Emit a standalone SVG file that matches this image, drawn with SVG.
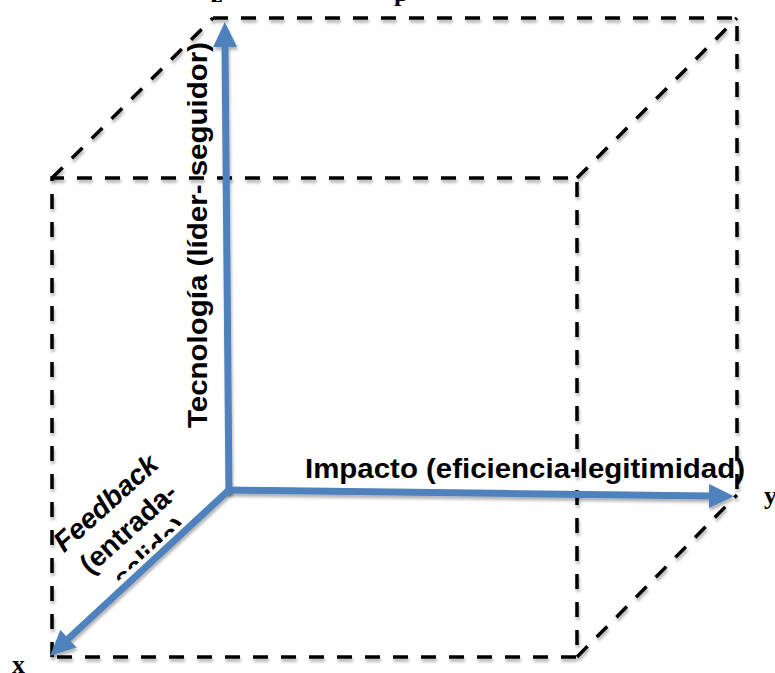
<svg xmlns="http://www.w3.org/2000/svg" width="775" height="673" viewBox="0 0 775 673">
<style>
.dash{fill:none;stroke:#000;stroke-width:3.5;stroke-dasharray:15 13;filter:url(#sh)}
.ax{fill:none;stroke:#4F81BD;stroke-width:7;filter:url(#sh)}
.lbl{font-family:"Liberation Sans",Arial,sans-serif;font-weight:bold;font-size:28px;fill:#000}
.var{font-family:"Liberation Serif","Times New Roman",serif;font-weight:bold;font-size:26px;fill:#000}
</style>
<defs>
<filter id="sh" filterUnits="userSpaceOnUse" x="0" y="0" width="775" height="673">
<feDropShadow dx="1" dy="3" stdDeviation="1.5" flood-color="#000" flood-opacity="0.3"/>
</filter>
<marker id="head" markerUnits="userSpaceOnUse" markerWidth="26" markerHeight="24" refX="2" refY="12" orient="auto">
<path d="M0,0 L25,12 L0,24 z" fill="#4F81BD"/>
</marker>
<clipPath id="clipSal" clipPathUnits="userSpaceOnUse">
<rect x="-200" y="-100" width="400" height="157"/>
</clipPath>
</defs>
<g id="cube">
<path class="dash" d="M213,18 H737 V492"/>
<path class="dash" d="M52,657 V178 H577 V657 H52"/>
<path class="dash" d="M52,178 L213,18"/>
<path class="dash" d="M577,178 L737,18"/>
<path class="dash" d="M577,657 L737,495"/>
</g>
<g id="connectors">
<line class="ax" x1="229" y1="493" x2="225" y2="45" marker-end="url(#head)"/>
<line class="ax" x1="226" y1="490" x2="711" y2="496" marker-end="url(#head)"/>
<line class="ax" x1="229" y1="490" x2="67" y2="640" marker-end="url(#head)"/>
</g>
<g id="label-z"><text class="var" x="211" y="2">z</text></g>
<g id="label-p"><text class="var" x="394" y="1">p</text></g>
<g id="label-x"><text class="var" x="12" y="673">x</text></g>
<g id="label-y"><text class="var" x="764" y="504">y</text></g>
<g id="label-tecnologia">
<text class="lbl" transform="translate(207,428) rotate(-90)" textLength="386" lengthAdjust="spacingAndGlyphs">Tecnología (líder- seguidor)</text>
</g>
<g id="label-impacto">
<text class="lbl" x="305" y="478" textLength="440" lengthAdjust="spacingAndGlyphs">Impacto (eficiencia-legitimidad)</text>
</g>
<g id="label-feedback" transform="translate(112,510) rotate(-42)">
<text class="lbl" x="0" y="0" text-anchor="middle" font-style="italic">Feedback</text>
<text class="lbl" x="0" y="34" text-anchor="middle">(entrada-</text>
<text class="lbl" x="0" y="67" text-anchor="middle" clip-path="url(#clipSal)">salida)</text>
</g>
</svg>
